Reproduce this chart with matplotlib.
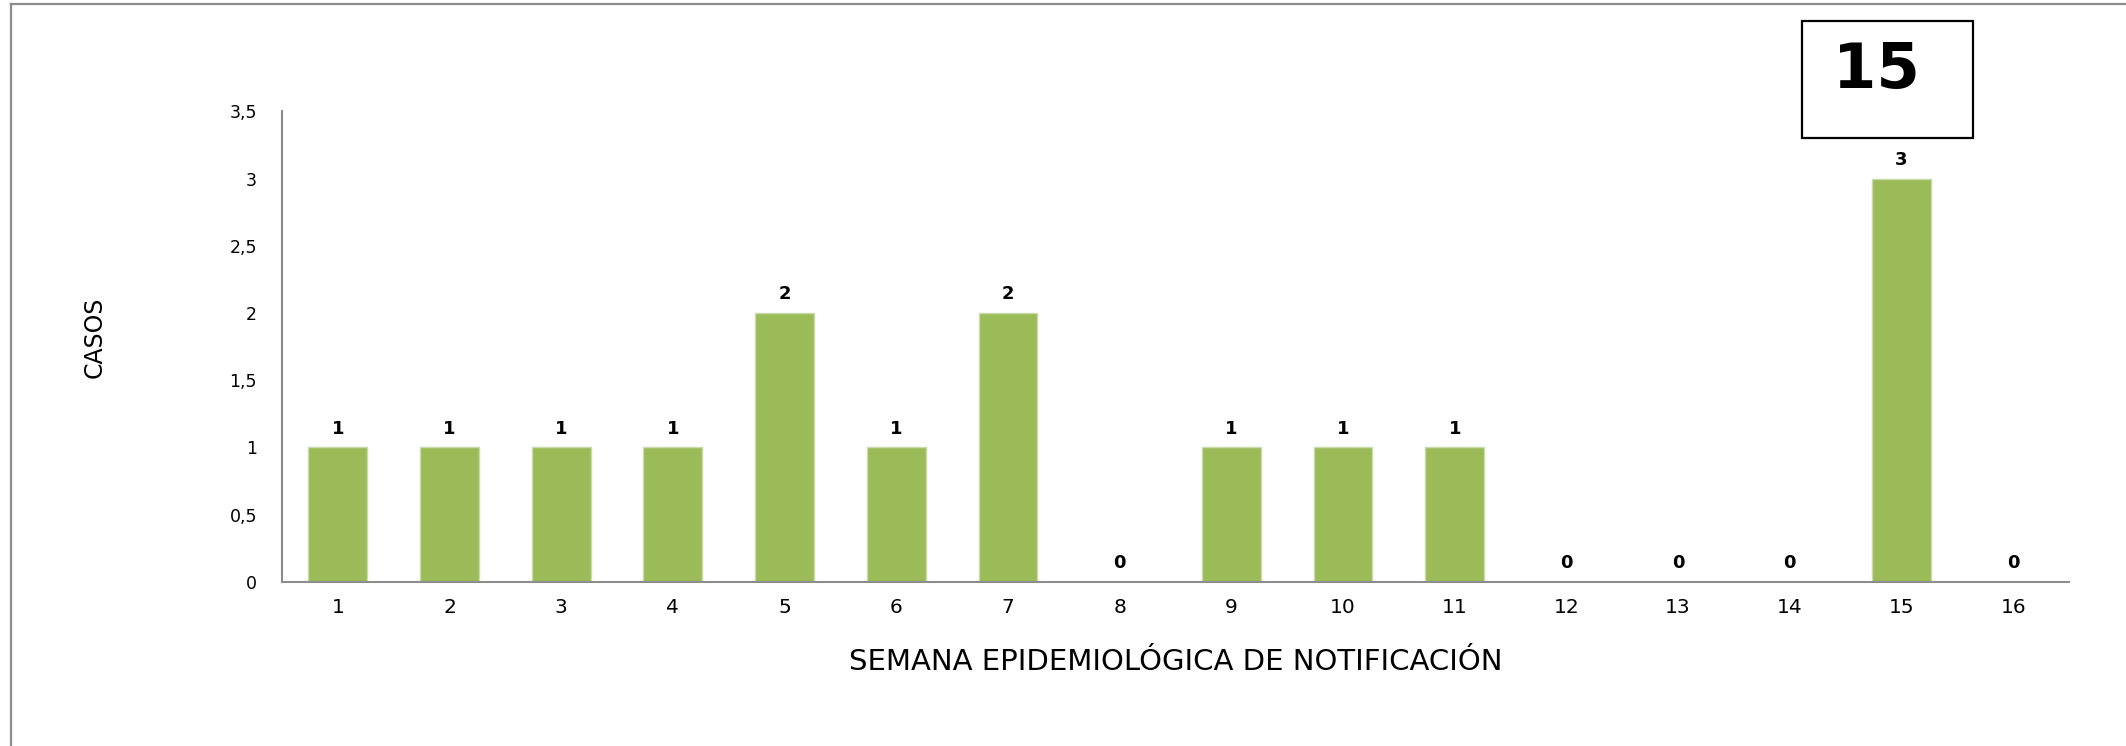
import matplotlib.pyplot as plt
import numpy as np
from matplotlib.patches import Rectangle

plt.rcParams['font.family'] = ['DejaVu Sans']

# Data: cases per epidemiological week
semanas = [str(i) for i in range(1, 17)]
casos = [1, 1, 1, 1, 2, 1, 2, 0, 1, 1, 1, 0, 0, 0, 3, 0]
yticks = [0, 0.5, 1, 1.5, 2, 2.5, 3, 3.5]
ytick_labels = ['0', '0,5', '1', '1,5', '2', '2,5', '3', '3,5']
semana_actual = '15'

fig = plt.figure(figsize=(21.26, 7.46), dpi=100)
ax = fig.add_axes([0.1326, 0.2202, 0.8406, 0.6306])

x = np.arange(len(semanas))
bars = ax.bar(x, casos, width=0.526, color='#9BBB59',
              edgecolor='#c9dbaa', linewidth=1)

for xi, v in zip(x, casos):
    ax.annotate(str(v), (xi, v), xytext=(0, 7), textcoords='offset points',
                ha='center', va='bottom', fontsize=13, fontweight='bold')

ax.set_xlim(-0.5, len(semanas) - 0.5)
ax.set_ylim(0, 3.5)
ax.set_xticks(x)
ax.set_xticklabels(semanas, fontsize=14.5)
ax.set_yticks(yticks)
ax.set_yticklabels(ytick_labels, fontsize=12.5)
ax.tick_params(axis='x', length=0, pad=12)
ax.tick_params(axis='y', length=0, pad=18)

for s in ['top', 'right']:
    ax.spines[s].set_visible(False)
for s in ['left', 'bottom']:
    ax.spines[s].set_color('#8c8c8c')
    ax.spines[s].set_linewidth(1.5)

fig.text(0.553, 0.113, 'SEMANA EPIDEMIOLÓGICA DE NOTIFICACIÓN',
         ha='center', va='center', fontsize=21)
fig.text(0.0447, 0.548, 'CASOS', rotation=90, ha='center', va='center',
         fontsize=17)

# box with current week
fig.patches.append(Rectangle((0.8475, 0.8146), 0.0804, 0.1572,
                             transform=fig.transFigure, fill=False,
                             edgecolor='black', linewidth=1.6))
fig.text(0.8825, 0.905, semana_actual, ha='center', va='center',
         fontsize=45, fontweight='bold')

# outer frame (left and top edges visible)
fig.add_artist(plt.Line2D([0.0052, 0.0052], [0, 0.9940],
                          transform=fig.transFigure, color='#8c8c8c', lw=1.6))
fig.add_artist(plt.Line2D([0.0052, 1], [0.9940, 0.9940],
                          transform=fig.transFigure, color='#8c8c8c', lw=1.6))

fig.savefig('out.png', dpi=100)
